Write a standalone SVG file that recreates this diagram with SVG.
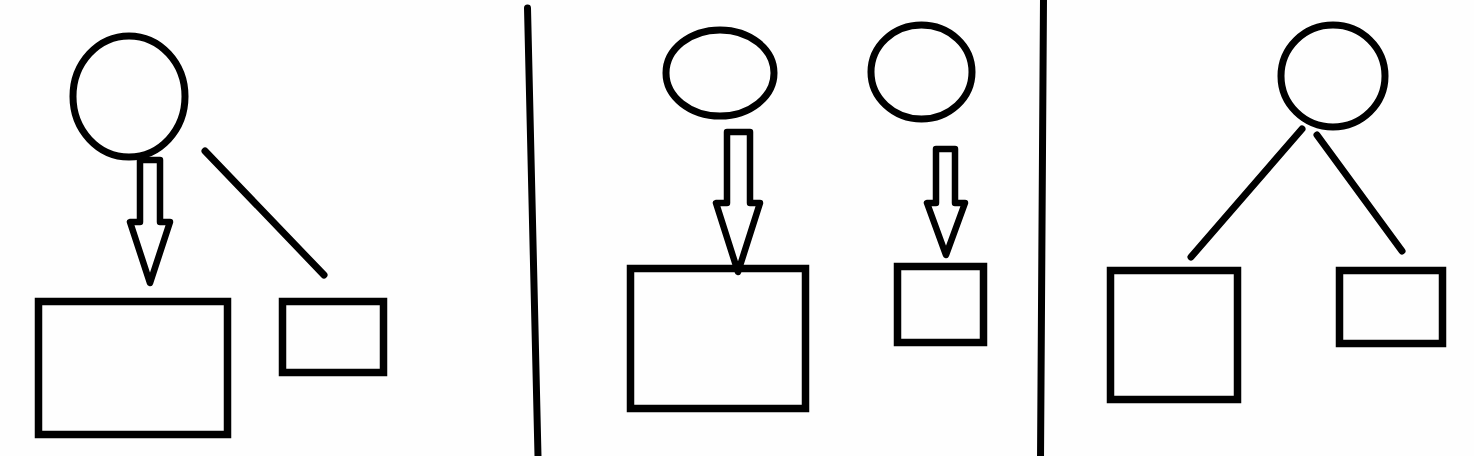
<svg xmlns="http://www.w3.org/2000/svg" width="1474" height="456" viewBox="0 0 1474 456">
<style>
.s{fill:none;stroke:#000;stroke-width:7.5}
.o{fill:none;stroke:#000;stroke-width:7}
.a{fill:none;stroke:#000;stroke-width:6.5;stroke-linejoin:round}
.l{fill:none;stroke:#000;stroke-width:7;stroke-linecap:round}
</style>
<rect width="1474" height="456" fill="#fefefe"/>
<g id="left-circle"><ellipse class="o" cx="129" cy="96.5" rx="56" ry="60.5"/></g>
<g id="left-big-rect"><rect class="s" x="38.5" y="301.5" width="189" height="133"/></g>
<g id="left-small-rect"><rect class="s" x="282.5" y="301.5" width="101" height="71"/></g>
<g id="mid-ellipse-1"><ellipse class="o" cx="720" cy="73" rx="54" ry="43"/></g>
<g id="mid-ellipse-2"><ellipse class="o" cx="921.5" cy="72" rx="50.5" ry="47"/></g>
<g id="mid-big-rect"><rect class="s" x="630.5" y="268.5" width="175" height="140"/></g>
<g id="mid-small-rect"><rect class="s" x="897.5" y="266.5" width="86" height="76"/></g>
<g id="right-circle"><ellipse class="o" cx="1333" cy="76" rx="52" ry="51"/></g>
<g id="right-big-rect"><rect class="s" x="1110.5" y="270.5" width="127" height="129"/></g>
<g id="right-small-rect"><rect class="s" x="1339.5" y="270.5" width="103" height="73"/></g>
<g id="connectors">
<polygon class="a" points="140,160 160,160 160,222 170,222 150,283 130,222 140,222"/>
<line class="l" x1="205" y1="151" x2="324" y2="275"/>
<polygon class="a" points="727,132 750,132 750,203 760,203 738,272 716,203 727,203"/>
<polygon class="a" points="936,149 955,149 955,203 965,203 946,255 927,203 936,203"/>
<line class="l" x1="1302" y1="129" x2="1191" y2="257"/>
<line class="l" x1="1317" y1="135" x2="1402" y2="251"/>
</g>
<g id="dividers">
<path class="l" d="M527.5,8 L538,456"/>
<path class="l" d="M1043.5,-2 L1040.5,460"/>
</g>
</svg>
